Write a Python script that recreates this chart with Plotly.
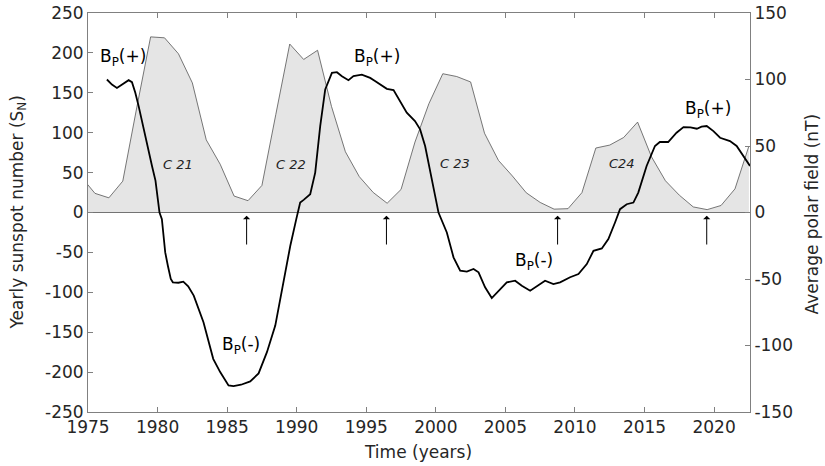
import plotly.graph_objects as go

# Yearly sunspot number (plotted at mid-year)
ss_years = [1974, 1975, 1976, 1977, 1978, 1979, 1980, 1981, 1982, 1983, 1984, 1985,
            1986, 1987, 1988, 1989, 1990, 1991, 1992, 1993, 1994, 1995, 1996, 1997,
            1998, 1999, 2000, 2001, 2002, 2003, 2004, 2005, 2006, 2007, 2008, 2009,
            2010, 2011, 2012, 2013, 2014, 2015, 2016, 2017, 2018, 2019, 2020, 2021, 2022]
ss_values = [45, 24, 18.4, 39.3, 131.0, 220.1, 218.9, 198.9, 162.4, 91.0, 60.5, 20.6,
             14.8, 33.9, 123.0, 211.1, 191.8, 203.3, 133.0, 76.1, 44.9, 25.1, 11.6, 28.9,
             88.3, 136.3, 173.9, 170.4, 163.6, 99.3, 65.3, 45.8, 24.7, 12.6, 4.2, 4.8,
             24.9, 80.8, 84.5, 94.0, 113.3, 69.8, 39.8, 21.7, 7.0, 3.6, 8.8, 29.6, 83.2]

# Average polar field (nT)
bp_time = [1976.36, 1976.72, 1977.08, 1977.44, 1977.92, 1978.16, 1978.4, 1978.64, 1979.0,
           1979.31, 1979.6, 1979.85, 1980.14, 1980.31, 1980.55, 1980.74, 1980.95, 1981.1,
           1981.5, 1981.85, 1982.2, 1982.6, 1983.3, 1984.0, 1984.5, 1985.1, 1985.46,
           1986.0, 1986.66, 1987.26, 1987.86, 1988.46, 1989.06, 1989.54, 1989.97, 1990.25,
           1990.5, 1990.97, 1991.33, 1991.69, 1992.05, 1992.53, 1992.89, 1993.25, 1993.72,
           1994.08, 1994.68, 1995.28, 1995.6, 1996.0, 1996.48, 1996.96, 1997.43, 1997.91,
           1998.5, 1998.87, 1999.23, 1999.59, 1999.95, 2000.19, 2000.79, 2001.27, 2001.75,
           2002.23, 2002.71, 2003.07, 2003.54, 2004.02, 2004.5, 2005.1, 2005.7, 2006.18,
           2006.78, 2007.37, 2007.85, 2008.45, 2008.93, 2009.65, 2010.25, 2010.85, 2011.33,
           2011.93, 2012.4, 2012.88, 2013.24, 2013.72, 2014.2, 2014.55, 2015.15, 2015.75,
           2016.1, 2016.7, 2017.3, 2017.8, 2018.3, 2018.76, 2019.1, 2019.47, 2019.95,
           2020.43, 2021.14, 2021.62, 2022.1, 2022.58]
bp_values = [100, 96.2, 93.7, 96.2, 99.5, 98, 90, 80, 62.5,
             47.5, 35, 24, 0, -5, -30, -40, -50, -52.5,
             -52.8, -52, -55.5, -62.5, -82.5, -110, -120, -130, -130.5,
             -129.5, -127, -121, -105, -85, -52.5, -25, -5, 7.5,
             9.5, 13.7, 30, 65, 92.5, 105, 105.5, 102.5, 99.5,
             102.5, 103.7, 101.2, 99, 96.2, 93, 92, 83.7, 75,
             68.7, 62.5, 50, 30, 12.5, 0, -15, -33.7, -43.8,
             -44.5, -42.5, -45, -56.2, -64.3, -58.8, -52.5, -51.3, -55,
             -58.8, -55, -51.3, -53.8, -52.5, -48.7, -46.3, -38.8, -28.8,
             -27, -20, -7.5, 2.5, 6.2, 7.5, 15, 35, 50,
             53, 53, 60, 64.2, 64, 63, 64.5, 65, 61.2,
             56.2, 53.7, 50, 42.5, 35]

x_ticks = [1975, 1980, 1985, 1990, 1995, 2000, 2005, 2010, 2015, 2020]
y1_ticks = [-250, -200, -150, -100, -50, 0, 50, 100, 150, 200, 250]
y2_ticks = [-150, -100, -50, 0, 50, 100, 150]

arrow_years = [1986.4, 1996.45, 2008.75, 2019.47]

fig = go.Figure()

fig.add_trace(go.Scatter(
    x=[y + 0.5 for y in ss_years], y=ss_values,
    mode="lines", fill="tozeroy", fillcolor="#e5e5e5",
    line=dict(color="#555555", width=0.8), yaxis="y", hoverinfo="skip"))

fig.add_trace(go.Scatter(
    x=bp_time, y=bp_values, mode="lines",
    line=dict(color="black", width=1.8),
    yaxis="y2", hoverinfo="skip"))

txtc = "#262626"
font = dict(family="DejaVu Sans", size=17, color=txtc)
ann = []
labels = [
    (1977.5, 194, "B<sub>P</sub>(+)"),
    (1995.8, 194, "B<sub>P</sub>(+)"),
    (2019.56, 129, "B<sub>P</sub>(+)"),
    (1986.0, -167, "B<sub>P</sub>(-)"),
    (2007.07, -61, "B<sub>P</sub>(-)"),
]
for x, y, t in labels:
    ann.append(dict(x=x, y=y, xref="x", yref="y", text=t, showarrow=False,
                    font=dict(family="DejaVu Sans", size=17, color="black")))
for x, y, t in [(1981.45, 60, "C 21"), (1989.6, 60, "C 22"),
                (2001.4, 62, "C 23"), (2013.36, 62, "C24")]:
    ann.append(dict(x=x, y=y, xref="x", yref="y", text="<i>" + t + "</i>",
                    showarrow=False,
                    font=dict(family="DejaVu Sans", size=13, color="#222222")))
for x in arrow_years:
    ann.append(dict(x=x, y=-4, xref="x", yref="y", ax=x, ay=-42,
                    axref="x", ayref="y", text="", showarrow=True,
                    arrowhead=1, arrowsize=1.2, arrowwidth=1, arrowcolor="black"))

# axis titles as annotations
ann.append(dict(x=-0.1057, y=0.5, xref="paper", yref="paper", textangle=-90,
                xanchor="center", yanchor="middle",
                text="Yearly sunspot number (S<sub>N</sub>)", showarrow=False, font=font))
ann.append(dict(x=1.095, y=0.495, xref="paper", yref="paper", textangle=-90,
                xanchor="center", yanchor="middle",
                text="Average polar field (nT)", showarrow=False, font=font))
ann.append(dict(x=0.4985, y=-0.101, xref="paper", yref="paper",
                xanchor="center", yanchor="middle",
                text="Time (years)", showarrow=False, font=font))

axc = "#808080"
fig.update_layout(
    width=825, height=466,
    margin=dict(l=88, r=75, t=13, b=53.5),
    paper_bgcolor="white", plot_bgcolor="white",
    showlegend=False,
    font=font,
    annotations=ann,
    xaxis=dict(range=[1975, 2022.58], tickvals=x_ticks, ticktext=[str(v) for v in x_ticks],
               showgrid=False, zeroline=False, showline=True, linecolor=axc, linewidth=1,
               mirror="ticks", ticks="inside", ticklen=5, tickcolor=axc,
               automargin=False, tickfont=font),
    yaxis=dict(range=[-250, 250], tickvals=y1_ticks, ticktext=[str(v) for v in y1_ticks],
               showgrid=False, zeroline=True, zerolinecolor="black", zerolinewidth=1,
               showline=True, linecolor=axc, linewidth=1,
               ticks="inside", ticklen=5, tickcolor=axc, automargin=False, tickfont=font),
    yaxis2=dict(range=[-150, 150], tickvals=y2_ticks, ticktext=[str(v) for v in y2_ticks],
                overlaying="y", side="right",
                showgrid=False, zeroline=False, showline=True, linecolor=axc, linewidth=1,
                ticks="inside", ticklen=5, tickcolor=axc, automargin=False, tickfont=font),
)

fig.write_html("out.html", config={"displayModeBar": False},
               post_script="document.body.style.margin='0px';")
